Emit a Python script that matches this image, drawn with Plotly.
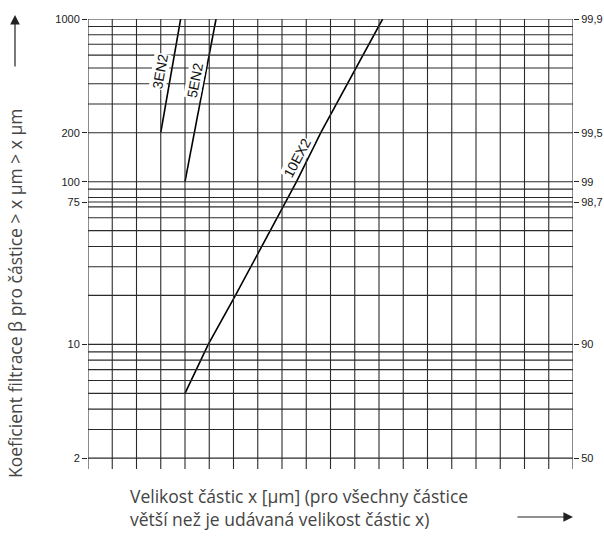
import numpy as np
import plotly.graph_objects as go

# ---- data ----
grid_x = list(range(0, 21))
grid_y = [2, 3, 4, 5, 6, 7, 8, 9, 10, 20, 30, 40, 50, 60, 70, 75, 80, 90,
          100, 200, 300, 400, 500, 600, 700, 800, 900, 1000]
left_ticks = [1000, 200, 100, 75, 10, 2]
left_text = ["1000", "200", "100", "75", "10", "2"]
right_text = ["99,9", "99,5", "99", "98,7", "90", "50"]

x_3en2 = [3.0, 3.82]
y_3en2 = [200, 1000]
x_5en2 = [4.0, 5.28]
y_5en2 = [100, 1000]
x_10ex2 = [4.0, 4.96, 6.08, 8.6, 9.6, 12.15]
y_10ex2 = [5, 10, 20, 100, 200, 1000]

y_min = 1.714
y_max = 1000
x_min, x_max = 0, 20

fig = go.Figure()

line_col = "#2b2b2b"
shapes = []
for gx in grid_x:
    shapes.append(dict(type="line", xref="x", yref="y", x0=gx, x1=gx, y0=y_min, y1=y_max,
                       line=dict(color=line_col, width=1.1)))
for gy in grid_y:
    shapes.append(dict(type="line", xref="x", yref="y", x0=x_min, x1=x_max, y0=gy, y1=gy,
                       line=dict(color=line_col, width=1.1)))

for xs, ys in [(x_3en2, y_3en2), (x_5en2, y_5en2), (x_10ex2, y_10ex2)]:
    fig.add_trace(go.Scatter(x=xs, y=ys, mode="lines", line=dict(color="black", width=1.6),
                             showlegend=False, hoverinfo="skip"))

# invisible trace for right axis
fig.add_trace(go.Scatter(x=[x_min], y=[100], yaxis="y2", mode="markers",
                         marker=dict(opacity=0), showlegend=False, hoverinfo="skip"))

tick_font = dict(family="Liberation Sans, Arial, sans-serif", size=11, color="#222")
label_font = dict(family="Liberation Sans, Arial, sans-serif", size=14, color="#111")
title_font = dict(family="Open Sans, sans-serif", size=17.5, color="#444")

yr = [np.log10(y_min), np.log10(y_max)]

annotations = [
    dict(x=2.97, y=np.log10(472), xref="x", yref="y", text="3EN2", showarrow=False,
         textangle=-80, font=label_font, bgcolor="white", borderpad=0),
    dict(x=4.41, y=np.log10(422), xref="x", yref="y", text="5EN2", showarrow=False,
         textangle=-79, font=label_font, bgcolor="white", borderpad=0),
    dict(x=8.62, y=np.log10(140), xref="x", yref="y", text="10EX2", showarrow=False,
         textangle=-62, font=label_font, bgcolor="white", borderpad=0),
    dict(x=(15 - 88) / 485, y=(469 - 293) / 450, xref="paper", yref="paper",
         text="Koeficient filtrace β pro částice > x µm > x µm", showarrow=False,
         textangle=-90, font=title_font, xanchor="center", yanchor="middle"),
    dict(x=(15 - 88) / 485, y=(469 - 15) / 450, xref="paper", yref="paper", text="",
         showarrow=True, ax=0, ay=53, arrowhead=2, arrowsize=1.6, arrowwidth=1.2,
         arrowcolor="#222"),
    dict(x=(128 - 88) / 485, y=(469 - 496) / 450, xref="paper", yref="paper",
         text="Velikost částic x [µm] (pro všechny částice",
         showarrow=False, xanchor="left", yanchor="middle", align="left", font=title_font),
    dict(x=(128 - 88) / 485, y=(469 - 519) / 450, xref="paper", yref="paper",
         text="větší než je udávaná velikost částic x)",
         showarrow=False, xanchor="left", yanchor="middle", align="left", font=title_font),
    dict(x=(573 - 88) / 485, y=(469 - 517) / 450, xref="paper", yref="paper", text="",
         showarrow=True, ax=-57, ay=0, arrowhead=2, arrowsize=1.6, arrowwidth=1.2,
         arrowcolor="#222"),
]

fig.update_layout(
    width=604, height=537,
    margin=dict(l=88, r=31, t=19, b=68, autoexpand=False),
    paper_bgcolor="white", plot_bgcolor="white",
    shapes=shapes,
    annotations=annotations,
    xaxis=dict(range=[x_min, x_max], showgrid=False, zeroline=False, showticklabels=False,
               ticks="", showline=False, fixedrange=True, automargin=False),
    yaxis=dict(type="log", range=yr, showgrid=False, zeroline=False, automargin=False,
               tickvals=left_ticks, ticktext=left_text, ticks="outside", ticklen=5,
               tickcolor="#222", tickwidth=1, tickfont=tick_font, showline=False,
               fixedrange=True),
    yaxis2=dict(type="log", range=yr, overlaying="y", side="right", showgrid=False,
                zeroline=False, tickvals=left_ticks, ticktext=right_text, ticks="outside",
                ticklen=5, tickcolor="#222", tickwidth=1, tickfont=tick_font, showline=False,
                automargin=False, fixedrange=True),
    showlegend=False,
)

fig.write_html("out.html", config={"displayModeBar": False, "staticPlot": True},
               post_script="document.body.style.margin='0';document.body.style.padding='0';")
